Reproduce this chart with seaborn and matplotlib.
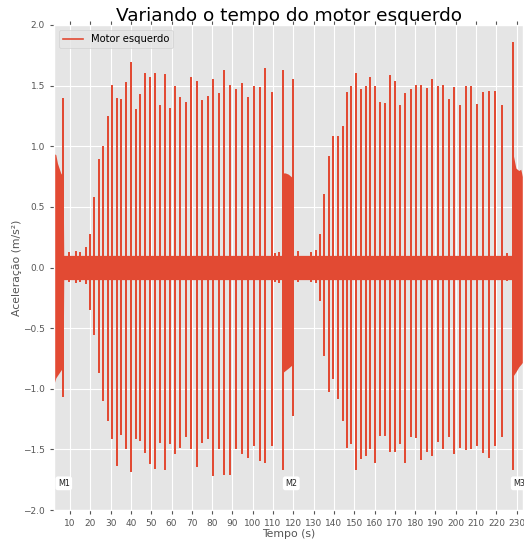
import numpy as np
import pandas as pd
import matplotlib
matplotlib.use("Agg")
import matplotlib.pyplot as plt
import seaborn as sns

# spikes (time in s, positive peak, negative peak)
spike_t = [6.56, 9.5, 12.8, 15.0, 18.0, 19.8, 21.9, 24.1, 26.2, 28.5, 30.8, 32.9, 35.2, 37.5,
           39.8, 42.3, 44.6, 47.0, 49.5, 51.9, 54.4, 56.8, 59.3, 61.9, 64.4, 66.9, 69.5,
           72.4, 75.0, 78.0, 80.4, 83.2, 86.0, 88.8, 91.9, 94.5, 97.6, 100.7, 103.7,
           106.2, 109.3, 111.0, 112.8, 115.0, 119.9, 122.2, 128.7, 131.2, 133.0, 135.3,
           137.4, 139.6, 141.9, 144.2, 146.5, 148.6, 150.9, 153.3, 155.6, 157.9, 160.4,
           162.8, 165.3, 167.7, 170.2, 172.7, 175.1, 177.7, 180.4, 183.0, 185.6, 188.2,
           191.0, 193.8, 196.6, 199.2, 202.1, 204.9, 207.7, 210.6, 213.3, 216.4, 219.3,
           222.9, 225.0, 228.0]
spike_pos = [1.39, 0.12, 0.13, 0.12, 0.16, 0.27, 0.57, 0.89, 0.99, 1.24, 1.50, 1.39, 1.38, 1.52,
             1.69, 1.30, 1.42, 1.60, 1.56, 1.60, 1.33, 1.59, 1.31, 1.49, 1.40, 1.36, 1.56,
             1.53, 1.37, 1.41, 1.55, 1.43, 1.62, 1.50, 1.46, 1.51, 1.40, 1.49, 1.48,
             1.64, 1.44, 0.11, 0.12, 1.62, 1.55, 0.13, 0.12, 0.14, 0.27, 0.60,
             0.91, 1.08, 1.08, 1.16, 1.44, 1.49, 1.60, 1.46, 1.49, 1.56, 1.49,
             1.36, 1.35, 1.58, 1.53, 1.33, 1.43, 1.46, 1.50, 1.50, 1.47, 1.55,
             1.49, 1.50, 1.38, 1.48, 1.33, 1.49, 1.49, 1.34, 1.44, 1.45, 1.45,
             1.33, 0.11, 1.85]
spike_neg = [-1.06, -0.11, -0.12, -0.11, -0.13, -0.34, -0.55, -0.86, -1.09, -1.26, -1.41, -1.63, -1.37, -1.49,
             -1.68, -1.41, -1.42, -1.52, -1.61, -1.65, -1.44, -1.66, -1.45, -1.53, -1.48, -1.39, -1.49,
             -1.64, -1.44, -1.41, -1.71, -1.49, -1.70, -1.70, -1.49, -1.53, -1.56, -1.46, -1.59,
             -1.60, -1.46, -0.11, -0.12, -1.66, -1.22, -0.11, -0.11, -0.12, -0.27, -0.72,
             -1.02, -0.91, -1.08, -1.26, -1.48, -1.45, -1.66, -1.57, -1.55, -1.49, -1.60,
             -1.38, -1.38, -1.51, -1.51, -1.45, -1.60, -1.39, -1.40, -1.58, -1.51, -1.55,
             -1.43, -1.49, -1.39, -1.53, -1.48, -1.50, -1.49, -1.46, -1.52, -1.56, -1.46,
             -1.39, -0.10, -1.66]

# envelope of the dense vibration band (motor bursts M1, M2, M3)
band_t = [2.1, 3.0, 3.8, 4.6, 5.4, 6.2, 6.6, 6.9, 114.2, 114.5, 116.0, 117.5, 119.6, 119.9,
          228.2, 228.4, 229.6, 231.0, 232.0, 233.0]
band_hi = [0.94, 0.93, 0.86, 0.82, 0.78, 0.76, 0.76, 0.10, 0.10, 0.78, 0.78, 0.77, 0.74, 0.10,
           0.10, 0.92, 0.82, 0.80, 0.81, 0.74]
band_lo = [-0.96, -0.91, -0.89, -0.87, -0.85, -0.83, -0.83, -0.10, -0.10, -0.87, -0.85, -0.83, -0.80, -0.10,
           -0.10, -0.89, -0.86, -0.82, -0.80, -0.78]

marks = ["M1", "M2", "M3"]
mark_t = [4.0, 116.0, 228.3]
mark_y = -1.78

red = "#E24A33"
plt.style.use("ggplot")

# one continuous trace: 0 -> peak -> trough -> 0 at each spike
order = np.argsort(spike_t)
xs, ys = [band_t[0]], [0.0]
for i in order:
    xs += [spike_t[i]] * 4
    ys += [0.0, spike_pos[i], spike_neg[i], 0.0]
xs.append(band_t[-1])
ys.append(0.0)
df = pd.DataFrame({"t": xs, "a": ys})

fig = plt.figure(figsize=(5.24, 5.42), dpi=100)
ax = fig.add_axes([54 / 524, 1 - 510 / 542, 469 / 524, 485 / 542])

ax.fill_between(band_t, band_lo, band_hi, color=red, lw=0)
sns.lineplot(data=df, x="t", y="a", sort=False, estimator=None, color=red,
             lw=1.2, label="Motor esquerdo", ax=ax)

for m, t in zip(marks, mark_t):
    ax.text(t, mark_y, m, fontsize=5.8, va="center", ha="left", color="#222222",
            bbox=dict(boxstyle="round,pad=0.3", fc="white", ec="none"))

ax.set_xlim(2.1, 233.1)
ax.set_ylim(-2.0, 2.0)
ax.set_xticks(np.arange(10, 231, 10))
ax.set_yticks(np.arange(-2.0, 2.01, 0.5))
ax.tick_params(labelsize=6.5, top=True, length=3)
ax.set_title("Variando o tempo do motor esquerdo", fontsize=13.3, pad=3)
ax.set_xlabel("Tempo (s)", fontsize=7.8, labelpad=1)
ax.set_ylabel("Aceleração (m/s²)", fontsize=7.8, labelpad=1)
ax.legend(loc="upper left", fontsize=7.2)

fig.savefig("out.png", dpi=100)
